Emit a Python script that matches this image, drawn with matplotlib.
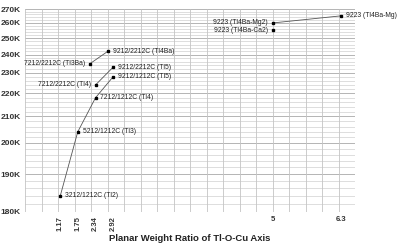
import numpy as np
import matplotlib
matplotlib.use("Agg")
import matplotlib.pyplot as plt

plt.rcParams['font.family'] = ['Liberation Sans', 'DejaVu Sans']

# ---- data ----
labels = ["3212/1212C (Tl2)", "5212/1212C (Tl3)", "7212/1212C (Tl4)", "9212/1212C (Tl5)",
          "7212/2212C (Tl4)", "9212/2212C (Tl5)",
          "7212/2212C (Tl3Ba)", "9212/2212C (Tl4Ba)",
          "9223 (Tl4Ba-Mg2)", "9223 (Tl4Ba-Mg)", "9223 (Tl4Ba-Ca2)"]
ratio = [1.17, 1.75, 2.34, 2.92, 2.34, 2.92, 2.16, 2.75, 5.0, 6.3, 5.0]
tc = [184, 204, 218, 228, 224, 233, 235, 242, 260, 265, 255]
label_side = ["r", "r", "r", "r", "l", "r", "l", "r", "l", "r", "l"]
series = [[0, 1, 2, 3], [4, 5], [6, 7], [8, 9], [10]]

xtick_vals = [1.17, 1.75, 2.34, 2.92, 5, 6.3]
xtick_text = ["1.17", "1.75", "2.34", "2.92", "5", "6.3"]
ytick_vals = list(range(180, 271, 10))
ytick_text = [f"{v}K" for v in ytick_vals]

# ---- scales ----
xa_vals = np.array([0.0, 2.92, 5.0, 6.3, 6.565])
xa_pos = np.array([0.0, 88.0, 247.5, 316.0, 330.0])
def xfwd(v):
    return np.interp(v, xa_vals, xa_pos)
def xinv(p):
    return np.interp(p, xa_pos, xa_vals)

C = 138.0
def yfwd(t):
    return np.log(np.maximum(np.asarray(t, dtype=float) - C, 1e-6))
def yinv(y):
    return np.exp(y) + C

fig = plt.figure(figsize=(4.0, 2.44), dpi=100)
ax = fig.add_axes([25/400, 1 - 212/244, 330/400, 203/244])
ax.set_xscale('function', functions=(xfwd, xinv))
ax.set_yscale('function', functions=(yfwd, yinv))
ax.set_xlim(0.0, 6.565)
ax.set_ylim(180, 270)

# grid
ax.set_yticks(ytick_vals)
ax.set_yticks(np.arange(180, 271, 2), minor=True)
ax.grid(False)
for v in np.arange(180, 271, 2):
    major = (v % 10 == 0)
    ax.axhline(v, color='#a8a8a8' if major else '#d8d8d8', lw=0.6, zorder=0)
ax.vlines(np.linspace(0, 1, 21), 0, 1, transform=ax.transAxes,
          color='#c4c4c4', lw=0.6, zorder=0)
for s in ax.spines.values():
    s.set_visible(False)

# series
for idx in series:
    xs = [ratio[i] for i in idx]
    ys = [tc[i] for i in idx]
    ax.plot(xs, ys, color='#555555', lw=0.6, marker='s', ms=2.0,
            mfc='black', mec='black', zorder=3)

for i, lab in enumerate(labels):
    if label_side[i] == "r":
        ax.annotate(lab, (ratio[i], tc[i]), xytext=(3.5, 0), textcoords='offset points',
                    ha='left', va='center', fontsize=4.9, color='#222222')
    else:
        ax.annotate(lab, (ratio[i], tc[i]), xytext=(-3.5, 0), textcoords='offset points',
                    ha='right', va='center', fontsize=4.9, color='#222222')

# ticks
ax.set_yticklabels(ytick_text, fontsize=6, fontweight='bold', color='#333333')
ax.yaxis.set_minor_formatter(plt.NullFormatter())
ax.set_xticks(xtick_vals)
ax.set_xticklabels(xtick_text, fontsize=5.5, fontweight='bold', color='#333333')
for t, v in zip(ax.get_xticklabels(), xtick_vals):
    if v < 3:
        t.set_rotation(90)
        t.set_va('top')
ax.tick_params(axis='both', which='both', length=0)
ax.tick_params(axis='y', pad=3)
ax.tick_params(axis='x', pad=3)
ax.set_xlabel("Planar Weight Ratio of Tl-O-Cu Axis", fontsize=6.8, fontweight='bold',
              color='#222222', labelpad=2)

fig.savefig("out.png", dpi=100)
